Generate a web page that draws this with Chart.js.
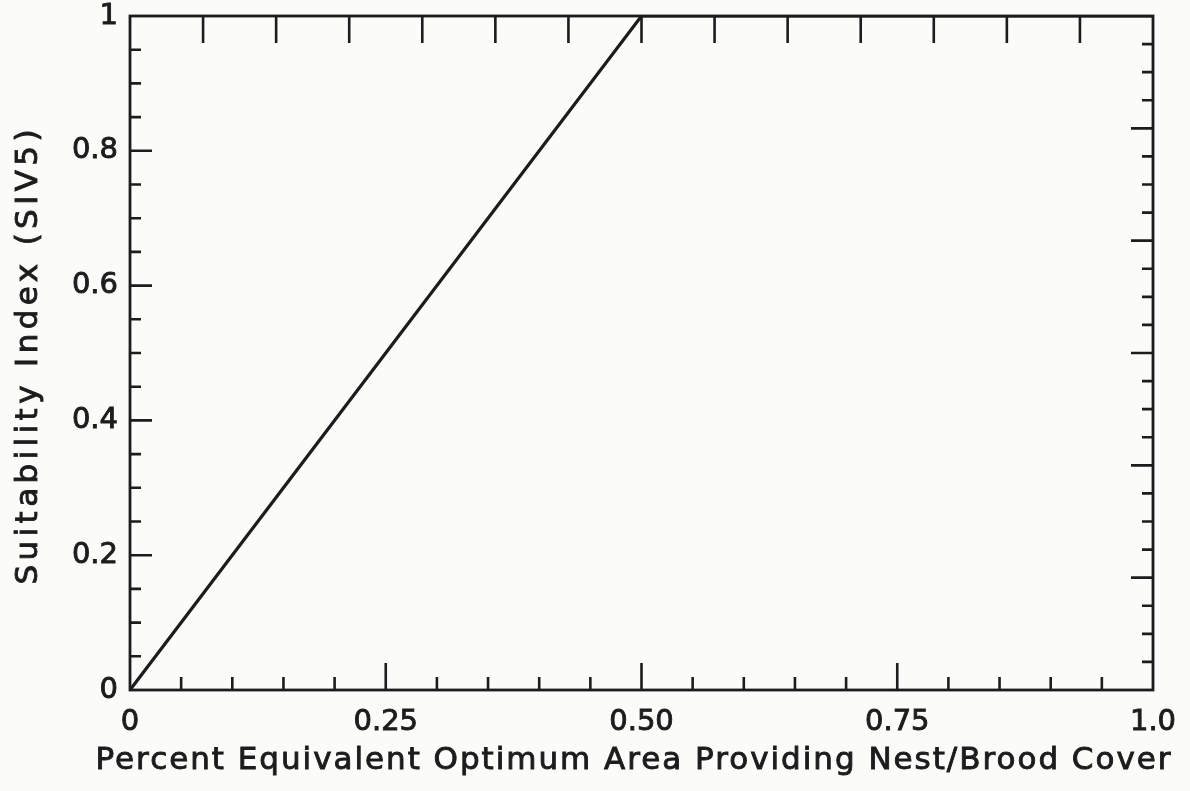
<!DOCTYPE html>
<html>
<head>
<meta charset="utf-8">
<script src="https://cdn.jsdelivr.net/npm/chart.js@4.4.1/dist/chart.umd.min.js"></script>
<style>
  html, body { margin: 0; padding: 0; background: #fbfbfa; }
  #wrap { width: 1190px; height: 791px; }
</style>
</head>
<body>
<div id="wrap"><canvas id="chart"></canvas></div>
<script>
// Suitability curve: rises linearly to 1 at 0.5, flat after
const xValues = [0, 0.5, 1.0];
const yValues = [0, 1, 1];

// Tick labels
const xTickValues = [0, 0.25, 0.5, 0.75, 1.0];
const xTickLabels = ['0', '0.25', '0.50', '0.75', '1.0'];
const yTickValues = [0, 0.2, 0.4, 0.6, 0.8, 1];
const yTickLabels = ['0', '0.2', '0.4', '0.6', '0.8', '1'];

// Axis titles
const xTitle = 'Percent Equivalent Optimum Area Providing Nest/Brood Cover';
const yTitle = 'Suitability Index (SIV5)';

// Tick mark positions on each side of the frame
const bottomMinor = [0.05, 0.1, 0.15, 0.2, 0.3, 0.35, 0.4, 0.45, 0.55, 0.6, 0.65, 0.7, 0.8, 0.85, 0.9, 0.95];
const bottomMajor = [0.25, 0.5, 0.75];
const leftMinor = [0.05, 0.1, 0.15, 0.25, 0.3, 0.35, 0.45, 0.5, 0.55, 0.65, 0.7, 0.75, 0.85, 0.9, 0.95];
const leftMajor = [0.2, 0.4, 0.6, 0.8];
const topTicks = [1, 2, 3, 4, 5, 6, 7, 8, 9, 10, 11, 12, 13].map(i => i / 14);
const rightTicks = [];
for (let i = 1; i < 24; i++) rightTicks.push({ v: i / 24, long: i % 4 === 0 });

const ink = '#1c1c1c';
const fontFamily = '"DejaVu Sans", "Liberation Sans", Arial, sans-serif';

// draw a string with widened letter spacing so it spans a given length
function spacedText(ctx, text, cx, cy, span) {
    ctx.letterSpacing = '0px';
    let w = ctx.measureText(text).width;
    let gap = Math.max(0, (span - w) / (text.length - 1));
    ctx.letterSpacing = gap + 'px';
    ctx.textAlign = 'left';
    ctx.fillText(text, cx - span / 2, cy);
    ctx.strokeText(text, cx - span / 2, cy);
}

// draws the frame, inward tick marks and axis titles using the chart's own scales
const framePlugin = {
    id: 'frame',
    afterDatasetsDraw(chart) {
        const ctx = chart.ctx;
        const area = chart.chartArea;
        const xs = chart.scales.x;
        const ys = chart.scales.y;
        ctx.save();
        ctx.strokeStyle = ink;
        ctx.lineWidth = 2.8;
        ctx.strokeRect(area.left, area.top, area.right - area.left, area.bottom - area.top);

        ctx.lineWidth = 2.6;
        ctx.beginPath();
        // bottom ticks point up
        for (let v of bottomMinor) {
            let px = xs.getPixelForValue(v);
            ctx.moveTo(px, area.bottom); ctx.lineTo(px, area.bottom - 13);
        }
        for (let v of bottomMajor) {
            let px = xs.getPixelForValue(v);
            ctx.moveTo(px, area.bottom); ctx.lineTo(px, area.bottom - 27);
        }
        // top ticks point down
        for (let v of topTicks) {
            let px = xs.getPixelForValue(v);
            ctx.moveTo(px, area.top); ctx.lineTo(px, area.top + 27);
        }
        // left ticks point right
        for (let v of leftMinor) {
            let py = ys.getPixelForValue(v);
            ctx.moveTo(area.left, py); ctx.lineTo(area.left + 11, py);
        }
        for (let v of leftMajor) {
            let py = ys.getPixelForValue(v);
            ctx.moveTo(area.left, py); ctx.lineTo(area.left + 22, py);
        }
        // right ticks point left
        for (let t of rightTicks) {
            let py = ys.getPixelForValue(t.v);
            ctx.moveTo(area.right, py); ctx.lineTo(area.right - (t.long ? 22 : 11), py);
        }
        ctx.stroke();

        // axis titles, a thin outline makes the strokes a bit heavier
        ctx.fillStyle = ink;
        ctx.lineWidth = 0.9;
        ctx.font = '31px ' + fontFamily;
        ctx.textBaseline = 'middle';
        spacedText(ctx, xTitle, 633, 761, 1075);

        ctx.translate(29, 357);
        ctx.rotate(-Math.PI / 2);
        spacedText(ctx, yTitle, 0, 0, 455);
        ctx.restore();
    }
};

new Chart(document.getElementById('chart').getContext('2d'), {
    type: 'scatter',
    data: {
        datasets: [{
            data: xValues.map((x, i) => ({ x: x, y: yValues[i] })),
            showLine: true,
            borderColor: ink,
            borderWidth: 3.2,
            pointRadius: 0,
            fill: false
        }]
    },
    options: {
        responsive: true,
        maintainAspectRatio: false,
        animation: false,
        layout: { padding: { left: 0, right: 37, top: 16, bottom: 0 } },
        plugins: {
            legend: { display: false },
            tooltip: { enabled: false }
        },
        scales: {
            x: {
                type: 'linear',
                min: 0,
                max: 1,
                afterFit: (scale) => {
                    scale.height = 101;
                    scale.paddingLeft = 0;
                    scale.paddingRight = 0;
                },
                afterBuildTicks: (scale) => { scale.ticks = xTickValues.map(v => ({ value: v })); },
                grid: { display: false, drawTicks: false },
                border: { display: false },
                ticks: {
                    color: ink,
                    textStrokeColor: ink,
                    textStrokeWidth: 0.9,
                    padding: 15,
                    maxRotation: 0,
                    autoSkip: false,
                    font: { family: fontFamily, size: 29 },
                    callback: (v) => xTickLabels[xTickValues.indexOf(v)]
                }
            },
            y: {
                type: 'linear',
                min: 0,
                max: 1,
                afterFit: (scale) => {
                    scale.width = 130;
                    scale.paddingTop = 0;
                    scale.paddingBottom = 0;
                },
                afterBuildTicks: (scale) => { scale.ticks = yTickValues.map(v => ({ value: v })); },
                grid: { display: false, drawTicks: false },
                border: { display: false },
                ticks: {
                    color: ink,
                    textStrokeColor: ink,
                    textStrokeWidth: 0.9,
                    padding: 12,
                    autoSkip: false,
                    font: { family: fontFamily, size: 29 },
                    callback: (v) => yTickLabels[yTickValues.indexOf(v)]
                }
            }
        }
    },
    plugins: [framePlugin]
});
</script>
</body>
</html>
